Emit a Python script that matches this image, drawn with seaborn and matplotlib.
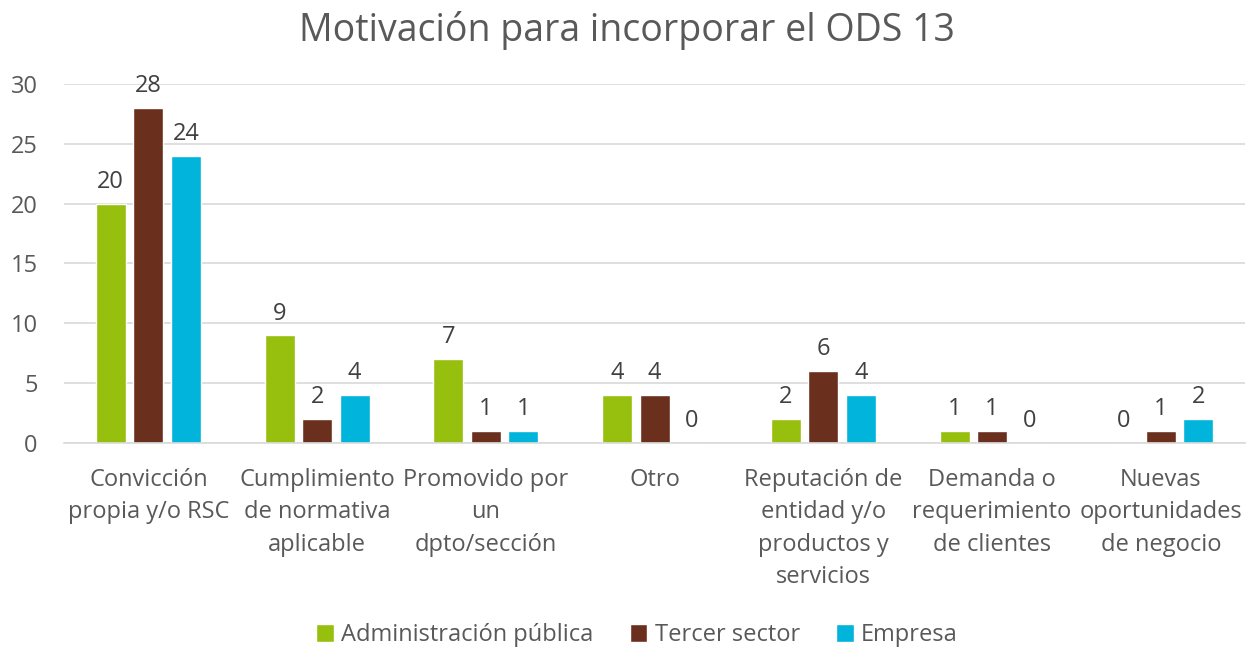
import pandas as pd
import matplotlib.pyplot as plt
import seaborn as sns

categories = ["Convicción\npropia y/o RSC", "Cumplimiento\nde normativa\naplicable",
              "Promovido por\nun\ndpto/sección", "Otro",
              "Reputación de\nentidad y/o\nproductos y\nservicios",
              "Demanda o\nrequerimiento\nde clientes", "Nuevas\noportunidades\nde negocio"]
series = ["Administración pública", "Tercer sector", "Empresa"]
admin_publica = [20, 9, 7, 4, 2, 1, 0]
tercer_sector = [28, 2, 1, 4, 6, 1, 1]
empresa = [24, 4, 1, 0, 4, 0, 2]
colors = ["#97BF0D", "#6B2F1E", "#00B4DC"]

df = pd.DataFrame({
    "categoria": categories * 3,
    "serie": [series[0]] * 7 + [series[1]] * 7 + [series[2]] * 7,
    "valor": admin_publica + tercer_sector + empresa,
})

sns.set_style("white")
plt.rcParams['font.family'] = ['Open Sans', 'DejaVu Sans']
text_color = "#595959"
fs = 17

fig = plt.figure(figsize=(12.54, 6.47), dpi=100)
ax = fig.add_axes([0.051, 0.3153, 0.942, 0.555])

sns.barplot(data=df, x="categoria", y="valor", hue="serie", palette=colors,
            saturation=1, width=0.667, gap=0.2, ax=ax, legend=True)

# etiquetas de valor sobre cada barra
for c in ax.containers:
    ax.bar_label(c, fmt="%g", padding=7, fontsize=fs, color="#404040")

ax.set_ylim(0, 30)
ax.set_yticks(range(0, 31, 5))
ax.yaxis.grid(True, color="#D9D9D9", linewidth=1.2)
ax.set_axisbelow(True)
for s in ["top", "right", "left"]:
    ax.spines[s].set_visible(False)
ax.spines["bottom"].set_color("#D9D9D9")
ax.spines["bottom"].set_linewidth(1.2)
ax.tick_params(axis="both", length=0, labelsize=fs, labelcolor=text_color)
ax.tick_params(axis="x", pad=18)
ax.tick_params(axis="y", pad=19)
for lbl in ax.get_xticklabels():
    lbl.set_linespacing(1.46)
ax.set_xlabel("")
ax.set_ylabel("")
ax.set_xlim(-0.5, 6.5)

handles, labels = ax.get_legend_handles_labels()
ax.get_legend().remove()
fig.legend(handles, labels, loc="lower center", bbox_to_anchor=(0.508, -0.033), ncol=3,
           frameon=False, fontsize=fs, labelcolor=text_color,
           handlelength=0.75, handleheight=0.75, handletextpad=0.3, columnspacing=1.55)

fig.suptitle("Motivación para incorporar el ODS 13", y=0.983, fontsize=27, color=text_color)

fig.savefig("out.png", dpi=100)
